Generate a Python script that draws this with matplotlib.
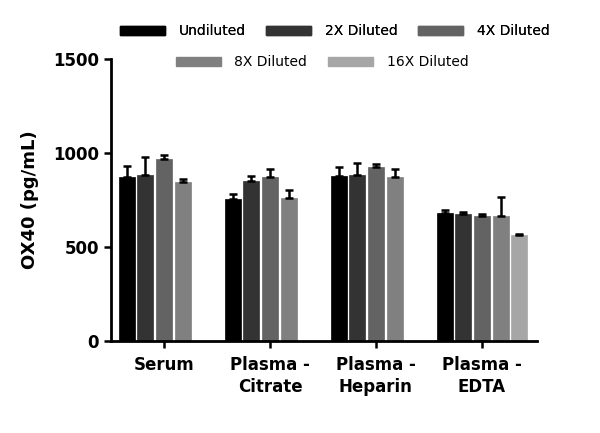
import numpy as np
import matplotlib.pyplot as plt
from matplotlib.patches import Patch

# ---------- data ----------
groups = ["Serum", "Plasma -\nCitrate", "Plasma -\nHeparin", "Plasma -\nEDTA"]
series = ["Undiluted", "2X Diluted", "4X Diluted", "8X Diluted", "16X Diluted"]
colors = ["#000000", "#333333", "#636363", "#808080", "#a6a6a6"]

undiluted = [870, 757, 878, 681]
diluted_2x = [883, 851, 881, 674]
diluted_4x = [970, 871, 927, 665]
diluted_8x = [844, 762, 874, 665]
diluted_16x = [np.nan, np.nan, np.nan, 565]

undiluted_err = [62, 25, 48, 16]
diluted_2x_err = [97, 27, 66, 11]
diluted_4x_err = [21, 44, 13, 9]
diluted_8x_err = [18, 41, 39, 101]
diluted_16x_err = [np.nan, np.nan, np.nan, 4]

means = [undiluted, diluted_2x, diluted_4x, diluted_8x, diluted_16x]
errs = [undiluted_err, diluted_2x_err, diluted_4x_err, diluted_8x_err, diluted_16x_err]

fig = plt.figure(figsize=(6.0, 4.33), dpi=100)
ax = fig.add_axes([0.185, 0.2125, 0.71, 0.651])

x = np.arange(len(groups))
step, width = 0.176, 0.151
for i, (m, e) in enumerate(zip(means, errs)):
    m = np.asarray(m, float); e = np.asarray(e, float)
    xs = x + (i - 2) * step
    ok = ~np.isnan(m)
    ax.bar(xs[ok], m[ok], width=width, color=colors[i], edgecolor=colors[i], lw=0.5, zorder=2)
    ax.errorbar(xs[ok], m[ok], yerr=[np.zeros(ok.sum()), e[ok]], fmt="none",
                ecolor="black", elinewidth=1.8, capsize=3, capthick=1.8, zorder=3)

ax.set_xlim(-0.5, 3.52)
ax.set_ylim(0, 1500)
ax.set_yticks([0, 500, 1000, 1500])
ax.set_xticks(x)
ax.set_xticklabels(groups, fontsize=12, fontweight="bold", linespacing=1.3)
ax.tick_params(axis="y", labelsize=12, width=1.8, length=5)
ax.tick_params(axis="x", width=1.8, length=5, pad=6)
for lab in ax.get_yticklabels():
    lab.set_fontweight("bold")
for s in ["top", "right"]:
    ax.spines[s].set_visible(False)
for s in ["left", "bottom"]:
    ax.spines[s].set_linewidth(2)
ax.set_ylabel("OX40 (pg/mL)", fontsize=13, fontweight="bold", labelpad=10)

handles = [Patch(facecolor=c, edgecolor=c) for c in colors]
leg1 = fig.legend(handles[:3], series[:3], loc="center", bbox_to_anchor=(0.558, 0.928),
                  ncol=3, frameon=False, fontsize=10, handlelength=3.2, handleheight=0.6,
                  columnspacing=1.5, handletextpad=1.0)
leg2 = fig.legend(handles[3:], series[3:], loc="center", bbox_to_anchor=(0.537, 0.856),
                  ncol=2, frameon=False, fontsize=10, handlelength=3.2, handleheight=0.6,
                  columnspacing=1.5, handletextpad=1.0)
fig.add_artist(leg1)

fig.savefig("out.png", dpi=100)
